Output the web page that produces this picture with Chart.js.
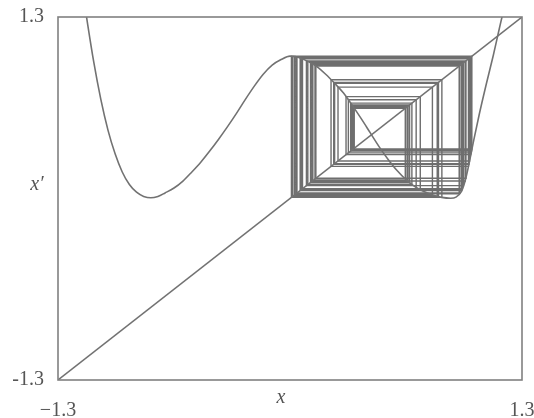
<!DOCTYPE html>
<html>
<head>
<meta charset="utf-8">
<script src="https://cdn.jsdelivr.net/npm/chart.js@4.4.1/dist/chart.umd.min.js"></script>
<style>
  html, body { margin: 0; padding: 0; background: #ffffff; overflow: hidden; }
  #wrap { width: 534px; height: 418px; position: relative; }
  canvas { display: block; }
</style>
</head>
<body>
<div id="wrap"><canvas id="c"></canvas></div>
<script>
// Map x' = f(x): sampled points of the curve
const curveX = [-1.15, -1.10, -1.06, -1.02, -0.98, -0.94, -0.90, -0.86, -0.82, -0.78, -0.74, -0.70, -0.65, -0.60, -0.55, -0.50, -0.45, -0.40, -0.35, -0.30, -0.25, -0.20, -0.15, -0.10, -0.05,
                0.00, 0.03, 0.06, 0.10, 0.15, 0.20, 0.25, 0.30, 0.35, 0.40, 0.45, 0.50, 0.55, 0.60, 0.65, 0.70, 0.75, 0.80, 0.85, 0.90, 0.93, 0.96, 0.98, 1.00, 1.03, 1.06, 1.10, 1.14, 1.19, 1.22];
const curveY = [1.38, 0.98, 0.71, 0.49, 0.32, 0.19, 0.10, 0.045, 0.015, 0.005, 0.015, 0.04, 0.075, 0.125, 0.19, 0.26, 0.34, 0.425, 0.515, 0.61, 0.71, 0.805, 0.89, 0.955, 0.995,
                1.02, 1.016, 1.005, 0.982, 0.945, 0.89, 0.825, 0.755, 0.665, 0.57, 0.47, 0.37, 0.28, 0.20, 0.135, 0.085, 0.05, 0.025, 0.008, 0.002, 0.01, 0.05, 0.12, 0.23, 0.42, 0.60, 0.82, 1.03, 1.31, 1.45];

// Successive iterates x0, x1, x2, ... of the map (cobweb)
const orbit = [0.36, 0.646, 0.14, 0.952, 0.039, 1.013, 0.314, 0.73, 0.064, 1.003, 0.25, 0.825, 0.016, 1.018, 0.347,
               0.67, 0.115, 0.972, 0.092, 0.986, 0.145, 0.948, 0.034, 1.015, 0.327, 0.707, 0.07, 1.0, 0.23, 0.851,
               0.008, 1.019, 0.355, 0.656, 0.128, 0.962, 0.057, 1.006, 0.269, 0.798, 0.026, 1.017, 0.34, 0.683, 0.1,
               0.982, 0.125, 0.964, 0.064, 1.003, 0.245, 0.832, 0.013, 1.019, 0.352, 0.661, 0.123, 0.966, 0.07, 1.0, 0.23];

const axisMin = -1.3, axisMax = 1.3;
const tickValues = [-1.3, 1.3];
const xTickLabels = ['\u22121.3', '1.3'];
const yTickLabels = ['-1.3', '1.3'];
const xTitle = 'x';
const yTitle = 'x\u2032';

const curvePts = curveX.map((x, i) => ({ x: x, y: curveY[i] }));
const diagPts = [{ x: axisMin, y: axisMin }, { x: axisMax, y: axisMax }];
const cobwebPts = [];
orbit.forEach((v, i) => {
  if (i === 0) { cobwebPts.push({ x: v, y: v }); return; }
  const prev = orbit[i - 1];
  cobwebPts.push({ x: prev, y: v });
  cobwebPts.push({ x: v, y: v });
});

const ink = '#555555';
const serif = '"Liberation Serif", "DejaVu Serif", serif';

// Frame around the plotting area
const framePlugin = {
  id: 'frame',
  afterDatasetsDraw(chart) {
    const { ctx, chartArea: a } = chart;
    ctx.save();
    ctx.strokeStyle = '#808080';
    ctx.lineWidth = 1.6;
    ctx.strokeRect(a.left, a.top, a.right - a.left, a.bottom - a.top);
    ctx.restore();
  }
};

// Upright italic axis names
const axisNamePlugin = {
  id: 'axisNames',
  afterDraw(chart) {
    const { ctx, chartArea: a } = chart;
    ctx.save();
    ctx.fillStyle = ink;
    ctx.font = 'italic 20px ' + serif;
    ctx.textAlign = 'center';
    ctx.textBaseline = 'middle';
    ctx.fillText(yTitle, a.left - 21, (a.top + a.bottom) / 2 - 14);
    ctx.fillText(xTitle, (a.left + a.right) / 2 - 9, a.bottom + 18);
    ctx.restore();
  }
};

const fixedTicks = (scale) => { scale.ticks = tickValues.map(v => ({ value: v })); };
const noOverhang = (s) => { s.paddingLeft = 0; s.paddingRight = 0; s.paddingTop = 0; s.paddingBottom = 0; };

new Chart(document.getElementById('c'), {
  type: 'scatter',
  data: {
    datasets: [
      { data: curvePts, showLine: true, borderColor: '#727272', borderWidth: 1.6, pointRadius: 0, cubicInterpolationMode: 'monotone', fill: false },
      { data: diagPts, showLine: true, borderColor: '#727272', borderWidth: 1.5, pointRadius: 0, fill: false },
      { data: cobwebPts, showLine: true, borderColor: 'rgba(85,85,85,0.85)', borderWidth: 1.4, pointRadius: 0, tension: 0, fill: false }
    ]
  },
  options: {
    responsive: true,
    maintainAspectRatio: false,
    animation: false,
    events: [],
    layout: { autoPadding: false, padding: { left: 0, top: 17, right: 12, bottom: 0 } },
    plugins: { legend: { display: false }, tooltip: { enabled: false } },
    scales: {
      x: {
        type: 'linear', min: axisMin, max: axisMax,
        grid: { display: false }, border: { display: false },
        afterBuildTicks: fixedTicks,
        afterFit: (s) => { s.height = 38; noOverhang(s); },
        ticks: {
          padding: 11, color: ink, font: { family: serif, size: 20 }, maxRotation: 0,
          callback: (v, i) => xTickLabels[i]
        }
      },
      y: {
        type: 'linear', min: axisMin, max: axisMax,
        grid: { display: false }, border: { display: false },
        afterBuildTicks: fixedTicks,
        afterFit: (s) => { s.width = 58; noOverhang(s); },
        ticks: {
          padding: 6, color: ink, font: { family: serif, size: 20 },
          callback: (v, i) => yTickLabels[i]
        }
      }
    }
  },
  plugins: [framePlugin, axisNamePlugin]
});
</script>
</body>
</html>
